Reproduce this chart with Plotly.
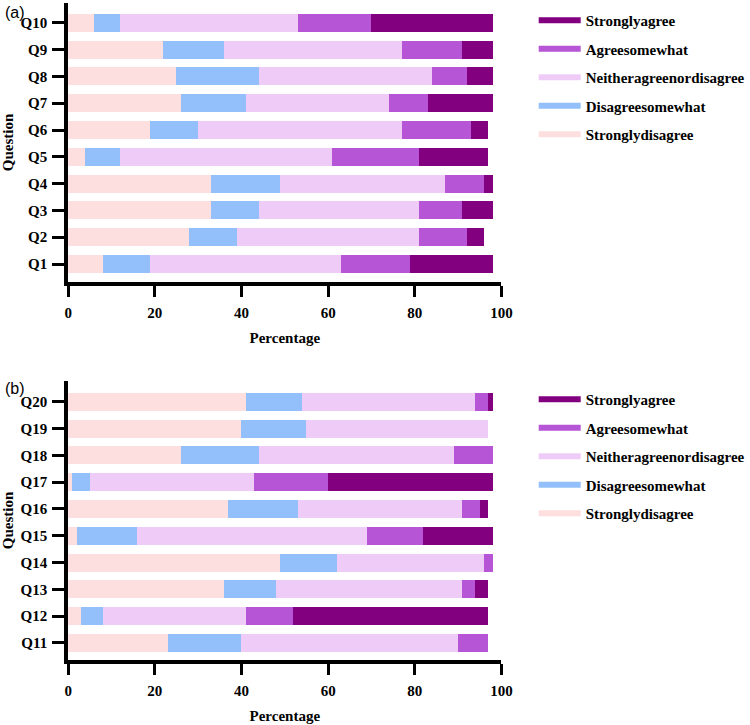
import plotly.graph_objects as go

# ---------------- data ----------------
levels = ["Stronglydisagree", "Disagreesomewhat", "Neitheragreenordisagree",
          "Agreesomewhat", "Stronglyagree"]
level_colors = ["#FDDFDF", "#93C0FA", "#EFCCF8", "#B655D6", "#820080"]

questions_a = ["Q1", "Q2", "Q3", "Q4", "Q5", "Q6", "Q7", "Q8", "Q9", "Q10"]
a_strongly_disagree = [8, 28, 33, 33, 4, 19, 26, 25, 22, 6]
a_disagree_somewhat = [11, 11, 11, 16, 8, 11, 15, 19, 14, 6]
a_neither = [44, 42, 37, 38, 49, 47, 33, 40, 41, 41]
a_agree_somewhat = [16, 11, 10, 9, 20, 16, 9, 8, 14, 17]
a_strongly_agree = [19, 4, 7, 2, 16, 4, 15, 6, 7, 28]

questions_b = ["Q11", "Q12", "Q13", "Q14", "Q15", "Q16", "Q17", "Q18", "Q19", "Q20"]
b_strongly_disagree = [23, 3, 36, 49, 2, 37, 1, 26, 40, 41]
b_disagree_somewhat = [17, 5, 12, 13, 14, 16, 4, 18, 15, 13]
b_neither = [50, 33, 43, 34, 53, 38, 38, 45, 42, 40]
b_agree_somewhat = [7, 11, 3, 2, 13, 4, 17, 9, 0, 3]
b_strongly_agree = [0, 45, 3, 0, 16, 2, 38, 0, 0, 1]

x_ticks = [0, 20, 40, 60, 80, 100]

series_a = [a_strongly_disagree, a_disagree_somewhat, a_neither, a_agree_somewhat, a_strongly_agree]
series_b = [b_strongly_disagree, b_disagree_somewhat, b_neither, b_agree_somewhat, b_strongly_agree]

# ---------------- figure ----------------
W, H = 750, 725
SERIF = "Liberation Serif"
SANS = "Liberation Sans"

fig = go.Figure()

for name, col, va, vb in zip(levels, level_colors, series_a, series_b):
    fig.add_trace(go.Bar(y=questions_a, x=va, orientation="h", name=name,
                         marker=dict(color=col, line=dict(width=0)),
                         showlegend=False, xaxis="x", yaxis="y"))
    fig.add_trace(go.Bar(y=questions_b, x=vb, orientation="h", name=name,
                         marker=dict(color=col, line=dict(width=0)),
                         showlegend=False, xaxis="x2", yaxis="y2"))

# legend entries (line-style keys), top to bottom: Stronglyagree ... Stronglydisagree
for i, (name, col) in enumerate(zip(levels[::-1], level_colors[::-1])):
    for lg, xa, ya in (("legend", "x", "y"), ("legend2", "x2", "y2")):
        fig.add_trace(go.Scatter(x=[None], y=[None], mode="lines", name=name,
                                 line=dict(color=col, width=6),
                                 legend=lg, legendgroup=f"{lg}-{i}",
                                 xaxis=xa, yaxis=ya, hoverinfo="skip"))

tickfont = dict(family=SERIF, size=15, color="black", weight="bold")
titlefont = dict(family=SERIF, size=15, color="black", weight="bold")

x_dom = [68.7 / W, 505.5 / W]


def xaxis_cfg(anchor):
    return dict(domain=x_dom, range=[0, 100], anchor=anchor,
                showline=True, linewidth=4, linecolor="black",
                ticks="outside", ticklen=11, tickwidth=3, tickcolor="black",
                tickvals=x_ticks, ticktext=[str(t) for t in x_ticks],
                tickfont=tickfont, ticklabelstandoff=3,
                showgrid=False, zeroline=False, automargin=False,
                title=dict(text="Percentage", font=titlefont, standoff=13))


def yaxis_cfg(anchor, cats, dom, rng):
    return dict(domain=dom, anchor=anchor, type="category",
                categoryorder="array", categoryarray=cats, range=rng,
                showline=True, linewidth=4, linecolor="black",
                ticks="outside", ticklen=12, tickwidth=3, tickcolor="black",
                tickfont=tickfont, ticklabelstandoff=2,
                showgrid=False, zeroline=False, automargin=False,
                title=dict(text="Question", font=titlefont, standoff=8))


legend_common = dict(xanchor="left", yanchor="top", bgcolor="rgba(0,0,0,0)",
                     borderwidth=0, font=dict(family=SERIF, size=15, color="black", weight="bold"),
                     itemwidth=42, traceorder="grouped", tracegroupgap=6)

fig.update_layout(
    width=W, height=H,
    margin=dict(l=0, r=0, t=0, b=0),
    paper_bgcolor="white", plot_bgcolor="white",
    barmode="stack", bargap=0.33,
    showlegend=True,
    xaxis=xaxis_cfg("y"),
    yaxis=yaxis_cfg("x", questions_a, [(H - 282) / H, (H - 3) / H], [-0.67, 9.74]),
    xaxis2=xaxis_cfg("y2"),
    yaxis2=yaxis_cfg("x2", questions_b, [(H - 660) / H, (H - 381) / H], [-0.64, 9.78]),
    legend=dict(x=538 / W, y=1 - 4 / H, **legend_common),
    legend2=dict(x=538 / W, y=1 - 383 / H, **legend_common),
    annotations=[
        dict(text="(a)", x=3 / W, y=1 - 12 / H, xref="paper", yref="paper",
             xanchor="left", yanchor="middle", showarrow=False,
             font=dict(family=SANS, size=16, color="black")),
        dict(text="(b)", x=3 / W, y=1 - 388 / H, xref="paper", yref="paper",
             xanchor="left", yanchor="middle", showarrow=False,
             font=dict(family=SANS, size=16, color="black")),
    ],
)

fig.write_html("out.html")
